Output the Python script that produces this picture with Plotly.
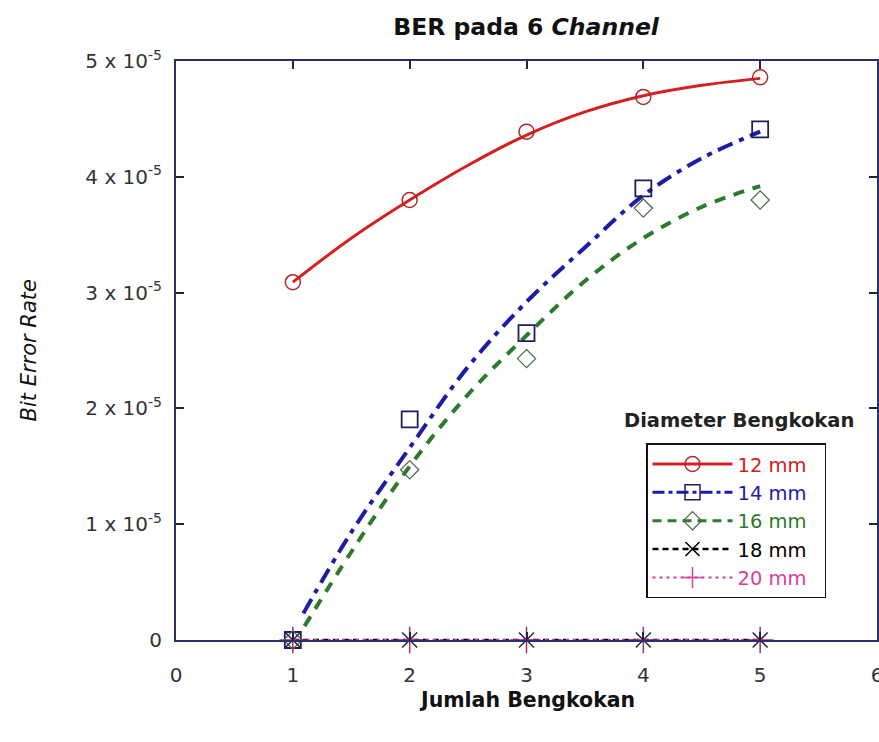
import plotly.graph_objects as go

# ---- data ----
x_pts = [1, 2, 3, 4, 5]
ber_12 = [3.09e-5, 3.80e-5, 4.39e-5, 4.69e-5, 4.86e-5]
ber_14 = [0.0, 1.905e-5, 2.65e-5, 3.90e-5, 4.41e-5]
ber_16 = [0.0, 1.47e-5, 2.43e-5, 3.73e-5, 3.80e-5]
ber_18 = [0.0, 0.0, 0.0, 0.0, 0.0]
ber_20 = [0.0, 0.0, 0.0, 0.0, 0.0]

# fitted curves
x_fit_12 = [1, 1.5, 2, 2.5, 3, 3.5, 4, 4.5, 5]
fit_12 = [3.09e-5, 3.47e-5, 3.80e-5, 4.10e-5, 4.36e-5, 4.56e-5, 4.70e-5, 4.79e-5, 4.85e-5]
x_fit_14 = [1.09, 1.5, 2, 2.5, 3, 3.5, 4, 4.5, 5]
fit_14 = [0.23e-5, 0.93e-5, 1.66e-5, 2.36e-5, 2.92e-5, 3.39e-5, 3.84e-5, 4.16e-5, 4.39e-5]
x_fit_16 = [1.1, 1.5, 2, 2.5, 3, 3.5, 4, 4.5, 5]
fit_16 = [0.12e-5, 0.76e-5, 1.50e-5, 2.12e-5, 2.63e-5, 3.10e-5, 3.47e-5, 3.74e-5, 3.92e-5]

y_tickvals = [0, 1e-5, 2e-5, 3e-5, 4e-5, 5e-5]
y_ticktext = ["0", "1 x 10<sup>-5</sup>", "2 x 10<sup>-5</sup>", "3 x 10<sup>-5</sup>",
              "4 x 10<sup>-5</sup>", "5 x 10<sup>-5</sup>"]
x_tickvals = [0, 1, 2, 3, 4, 5, 6]

series_names = ["12 mm", "14 mm", "16 mm", "18 mm", "20 mm"]

RED = "#d42020"
BLUE = "#1c1ca8"
GREEN = "#2c7a2c"
BLACK = "#000000"
MAGENTA = "#d63fa0"
AXIS = "#2e2e66"
FONT = "DejaVu Sans, Verdana, sans-serif"

fig = go.Figure()

# fit lines
fig.add_trace(go.Scatter(x=x_fit_12, y=fit_12, mode="lines", line=dict(color=RED, width=3, shape="spline"),
                         showlegend=False, hoverinfo="skip"))
fig.add_trace(go.Scatter(x=x_fit_14, y=fit_14, mode="lines",
                         line=dict(color=BLUE, width=4, shape="spline", dash="16px,7px,5px,7px"),
                         showlegend=False, hoverinfo="skip"))
fig.add_trace(go.Scatter(x=x_fit_16, y=fit_16, mode="lines",
                         line=dict(color=GREEN, width=4, shape="spline", dash="11px,9px"),
                         showlegend=False, hoverinfo="skip"))
# zero lines
fig.add_trace(go.Scatter(x=x_pts, y=ber_18, mode="lines", line=dict(color=BLACK, width=2.5, dash="6px,4px"),
                         showlegend=False, cliponaxis=False))
fig.add_trace(go.Scatter(x=x_pts, y=ber_20, mode="lines", line=dict(color=MAGENTA, width=2, dash="3px,4px"),
                         showlegend=False, cliponaxis=False))

# markers
fig.add_trace(go.Scatter(x=x_pts, y=ber_12, mode="markers", cliponaxis=False,
                         marker=dict(symbol="circle-open", size=15, color="#b02828", line=dict(width=1.5)),
                         showlegend=False))
fig.add_trace(go.Scatter(x=x_pts, y=ber_14, mode="markers", cliponaxis=False,
                         marker=dict(symbol="square-open", size=16, color="#1e1e5a", line=dict(width=1.8)),
                         showlegend=False))
fig.add_trace(go.Scatter(x=x_pts, y=ber_16, mode="markers", cliponaxis=False,
                         marker=dict(symbol="diamond-open", size=14, color="#4a6a4a", line=dict(width=1.2)),
                         showlegend=False))
fig.add_trace(go.Scatter(x=x_pts, y=ber_18, mode="markers", cliponaxis=False,
                         marker=dict(symbol="x-thin-open", size=15, color="#302040", line=dict(width=1.5)),
                         showlegend=False))
fig.add_trace(go.Scatter(x=x_pts, y=ber_20, mode="markers", cliponaxis=False,
                         marker=dict(symbol="cross-thin-open", size=19, color="#a0306a", line=dict(width=1.5)),
                         showlegend=False))

# legend entries
legend_styles = [
    (RED, dict(color=RED, width=3), dict(symbol="circle-open", size=15, color="#b02828", line=dict(width=1.5))),
    (BLUE, dict(color=BLUE, width=3, dash="12px,4px,4px,4px"), dict(symbol="square-open", size=15, color="#1e1e5a", line=dict(width=1.5))),
    (GREEN, dict(color=GREEN, width=3, dash="9px,6px"), dict(symbol="diamond-open", size=14, color="#4a6a4a", line=dict(width=1.2))),
    (BLACK, dict(color=BLACK, width=2.5, dash="6px,4px"), dict(symbol="x-thin-open", size=14, color=BLACK, line=dict(width=1.5))),
    (MAGENTA, dict(color=MAGENTA, width=2, dash="3px,4px"), dict(symbol="cross-thin-open", size=15, color=MAGENTA, line=dict(width=1.5))),
]
for name, (col, ln, mk) in zip(series_names, legend_styles):
    fig.add_trace(go.Scatter(x=[None], y=[None], mode="lines+markers", line=ln, marker=mk,
                             name=f"<span style='color:{col}'>{name}</span>\u00a0\u00a0"))

fig.update_layout(
    width=879, height=742,
    margin=dict(l=176, r=2, t=61, b=102, autoexpand=False),
    paper_bgcolor="white", plot_bgcolor="white",
    font=dict(family=FONT, size=20, color="#333333"),
    title=dict(text="<b>BER pada 6 <i>Channel</i></b>", x=0.5985, xanchor="center",
               y=1 - 27 / 742, yanchor="middle", yref="container",
               font=dict(size=23.5, color="#111111")),
    showlegend=True,
    legend=dict(x=(646 - 176) / 701, y=(640 - 443) / 580, xanchor="left", yanchor="top",
                bordercolor="#111111", borderwidth=1.5, bgcolor="white",
                font=dict(size=19.5), tracegroupgap=0, itemwidth=80),
    xaxis=dict(range=[0, 6], tickvals=x_tickvals, ticks="inside", ticklen=8, tickwidth=1.5,
               tickcolor="#222244", showline=True, linecolor=AXIS, linewidth=2, mirror="ticks",
               showgrid=False, zeroline=False, ticklabelstandoff=16, ticklabeloverflow="allow",
               automargin=False),
    yaxis=dict(range=[0, 5e-5], tickvals=y_tickvals, ticktext=y_ticktext, ticks="inside", ticklen=8,
               tickwidth=1.5, tickcolor="#222244", showline=True, linecolor=AXIS, linewidth=2,
               mirror="ticks", showgrid=False, zeroline=False, ticklabelstandoff=8, automargin=False),
    annotations=[
        dict(text="<b>Jumlah Bengkokan</b>", xref="paper", yref="paper", x=0.5, y=(640 - 700) / 580,
             xanchor="center", yanchor="middle", showarrow=False, font=dict(size=20.5, color="#111111")),
        dict(text="<i>Bit Error Rate</i>", xref="paper", yref="paper", x=(28 - 176) / 701, y=0.5,
             xanchor="center", yanchor="middle", textangle=-90, showarrow=False,
             font=dict(size=21, color="#111111")),
        dict(text="<b>Diameter Bengkokan</b>", xref="paper", yref="paper", x=(739 - 176) / 701,
             y=(640 - 420) / 580, xanchor="center", yanchor="middle", showarrow=False,
             font=dict(size=19.5, color="#222222")),
    ],
)

fig.write_html("out.html")
